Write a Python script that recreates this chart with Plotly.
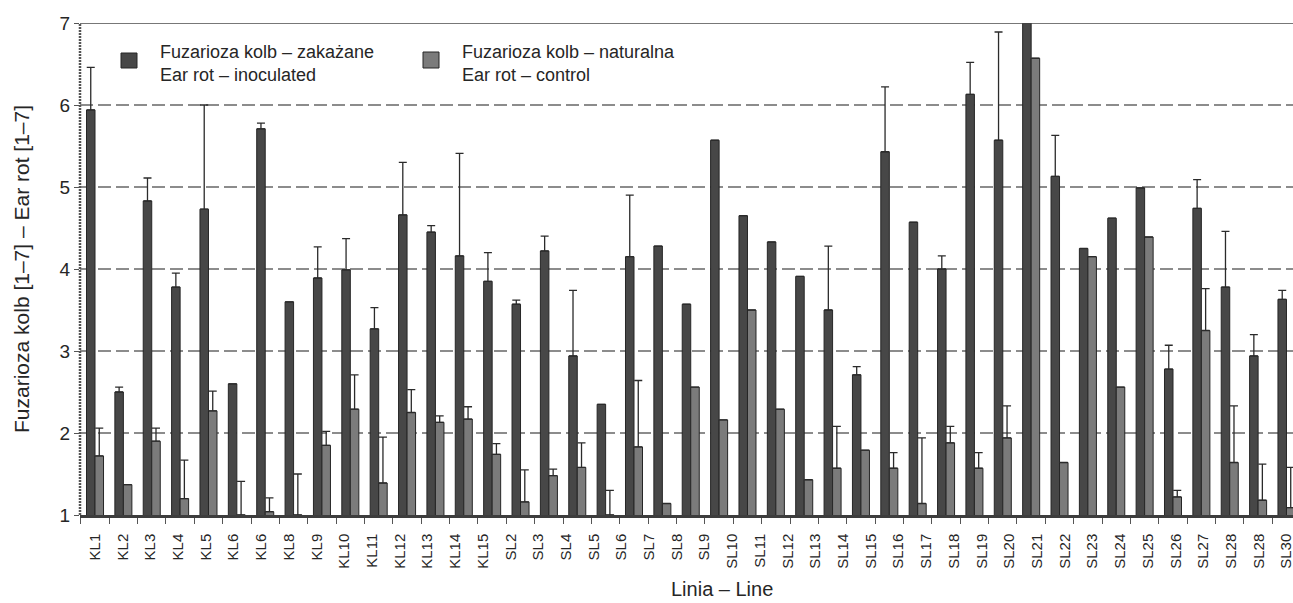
import plotly.graph_objects as go

# Line names printed along the x axis
lines = ["KL1", "KL2", "KL3", "KL4", "KL5", "KL6", "KL6", "KL8", "KL9", "KL10",
         "KL11", "KL12", "KL13", "KL14", "KL15",
         "SL2", "SL3", "SL4", "SL5", "SL6", "SL7", "SL8", "SL9", "SL10", "SL11",
         "SL12", "SL13", "SL14", "SL15", "SL16", "SL17", "SL18", "SL19", "SL20",
         "SL21", "SL22", "SL23", "SL24", "SL25", "SL26", "SL27", "SL28", "SL28", "SL30"]

# Ear rot score [1-7], inoculated plots
inoculated = [5.94, 2.50, 4.83, 3.78, 4.73, 2.60, 5.71, 3.60, 3.89, 3.99,
              3.27, 4.66, 4.45, 4.16, 3.85, 3.57, 4.22, 2.94, 2.35, 4.15,
              4.28, 3.57, 5.57, 4.65, 4.33, 3.91, 3.50, 2.71, 5.43, 4.57,
              4.00, 6.13, 5.57, 7.00, 5.13, 4.25, 4.62, 4.99, 2.78, 4.74,
              3.78, 2.94, 3.63]
inoculated_sd = [0.52, 0.06, 0.28, 0.17, 1.27, None, 0.07, None, 0.38, 0.38,
                 0.26, 0.64, 0.08, 1.25, 0.35, 0.05, 0.18, 0.80, None, 0.75,
                 None, None, None, None, None, None, 0.78, 0.10, 0.79, None,
                 0.16, 0.39, 1.32, None, 0.50, None, None, None, 0.29, 0.35,
                 0.68, 0.26, 0.11]

# Ear rot score [1-7], natural infection (control)
control = [1.72, 1.37, 1.90, 1.20, 2.27, 1.00, 1.04, 1.00, 1.85, 2.29,
           1.39, 2.25, 2.13, 2.17, 1.74, 1.16, 1.48, 1.58, 1.00, 1.83,
           1.14, 2.56, 2.16, 3.50, 2.29, 1.43, 1.57, 1.79, 1.57, 1.14,
           1.88, 1.57, 1.94, 6.57, 1.64, 4.15, 2.56, 4.39, 1.22, 3.25,
           1.64, 1.18, 1.09]
control_sd = [0.34, None, 0.16, 0.47, 0.24, 0.41, 0.17, 0.50, 0.17, 0.42,
              0.56, 0.28, 0.08, 0.15, 0.13, 0.39, 0.08, 0.30, 0.30, 0.81,
              None, None, None, None, None, None, 0.51, None, 0.19, 0.80,
              0.20, 0.19, 0.39, None, None, None, None, None, 0.08, 0.51,
              0.69, 0.44, 0.49]

name_inoc = ["Fuzarioza kolb – zakażane", "Ear rot – inoculated"]
name_ctrl = ["Fuzarioza kolb – naturalna", "Ear rot – control"]

DARK = "#474747"
LIGHT = "#7b7b7b"
EDGE = "#262626"
TXT = "#262626"
FONT = "Liberation Sans, Arial, sans-serif"

W, H = 1293, 603
ML, MR, MT, MB = 80, 0, 23, 88
PW, PH = W - ML - MR, H - MT - MB

n_bars = len(inoculated)
xs = list(range(n_bars))
# the line names are spread evenly over the span of the bar groups
label_pos = [j * (n_bars - 1) / (len(lines) - 1) for j in range(len(lines))]


def err(sd):
    return dict(type="data", symmetric=False, array=sd,
                arrayminus=[0] * len(sd), color="#2b2b2b",
                thickness=1.3, width=4)


fig = go.Figure()
fig.add_trace(go.Bar(x=xs, y=inoculated, name=" / ".join(name_inoc),
                     marker=dict(color=DARK, line=dict(color=EDGE, width=1)),
                     error_y=err(inoculated_sd), showlegend=False))
fig.add_trace(go.Bar(x=xs, y=control, name=" / ".join(name_ctrl),
                     marker=dict(color=LIGHT, line=dict(color=EDGE, width=1)),
                     error_y=err(control_sd), showlegend=False))


def px_x(p):
    return (p - ML) / PW


def px_y(p):
    return (H - MB - p) / PH


shapes = [
    # solid frame line at the top of the scale
    dict(type="line", xref="paper", yref="y", x0=0, x1=1, y0=7, y1=7,
         line=dict(color="#4a4a4a", width=1.6), layer="above"),
    # dotted value axis
    dict(type="line", xref="paper", yref="paper", x0=0, x1=0, y0=0, y1=1,
         line=dict(color="#555555", width=2.5, dash="2px,1px"), layer="above"),
]
annotations = []

# legend: filled squares with two-line captions
for (x0, x1, y0, y1, col, tx, names) in [
        (121, 137, 53, 68, DARK, 158, name_inoc),
        (423, 439, 52, 68, LIGHT, 460, name_ctrl)]:
    shapes.append(dict(type="rect", xref="paper", yref="paper",
                       x0=px_x(x0), x1=px_x(x1), y0=px_y(y1), y1=px_y(y0),
                       fillcolor=col, line=dict(color=EDGE, width=1)))
    annotations.append(dict(xref="paper", yref="paper", x=px_x(tx),
                            y=px_y(63.5), xanchor="left", yanchor="middle",
                            align="left", showarrow=False,
                            text="<br>".join(names),
                            font=dict(family=FONT, size=18, color=TXT)))

annotations.append(dict(xref="paper", yref="paper", x=px_x(722), y=px_y(589),
                        xanchor="center", yanchor="middle", showarrow=False,
                        text="Linia – Line", borderpad=0,
                        font=dict(family=FONT, size=20, color=TXT)))

fig.update_layout(
    width=W, height=H,
    margin=dict(l=ML, r=MR, t=MT, b=MB, pad=0),
    paper_bgcolor="white", plot_bgcolor="white",
    barmode="group", bargap=0.4, bargroupgap=0,
    font=dict(family=FONT, color=TXT),
    shapes=shapes, annotations=annotations,
    xaxis=dict(range=[-0.529, 42.23], tickmode="array", tickvals=label_pos,
               ticktext=lines, tickangle=-90, ticks="",
               tickfont=dict(size=15, color=TXT), ticklabelstandoff=10,
               ticklabeloverflow="allow",
               showline=True, linecolor="#3d3d3d", linewidth=2.5,
               showgrid=False, zeroline=False,
               minor=dict(tick0=-0.5, dtick=1, ticks="outside", ticklen=6,
                          tickwidth=1.2, tickcolor="#555555", showgrid=False)),
    yaxis=dict(range=[1, 7], tickmode="array", tickvals=[1, 2, 3, 4, 5, 6, 7],
               ticks="outside", ticklen=5, tickwidth=1.2, tickcolor="#555555",
               tickfont=dict(size=19, color=TXT),
               showgrid=True, gridcolor="#8c8c8c", gridwidth=1.5,
               griddash="13px,5px", zeroline=False, showline=False,
               title=dict(text="Fuzarioza kolb [1–7] – Ear rot [1–7]",
                          font=dict(size=21, color=TXT), standoff=24)),
)

fig.write_html("out.html")
